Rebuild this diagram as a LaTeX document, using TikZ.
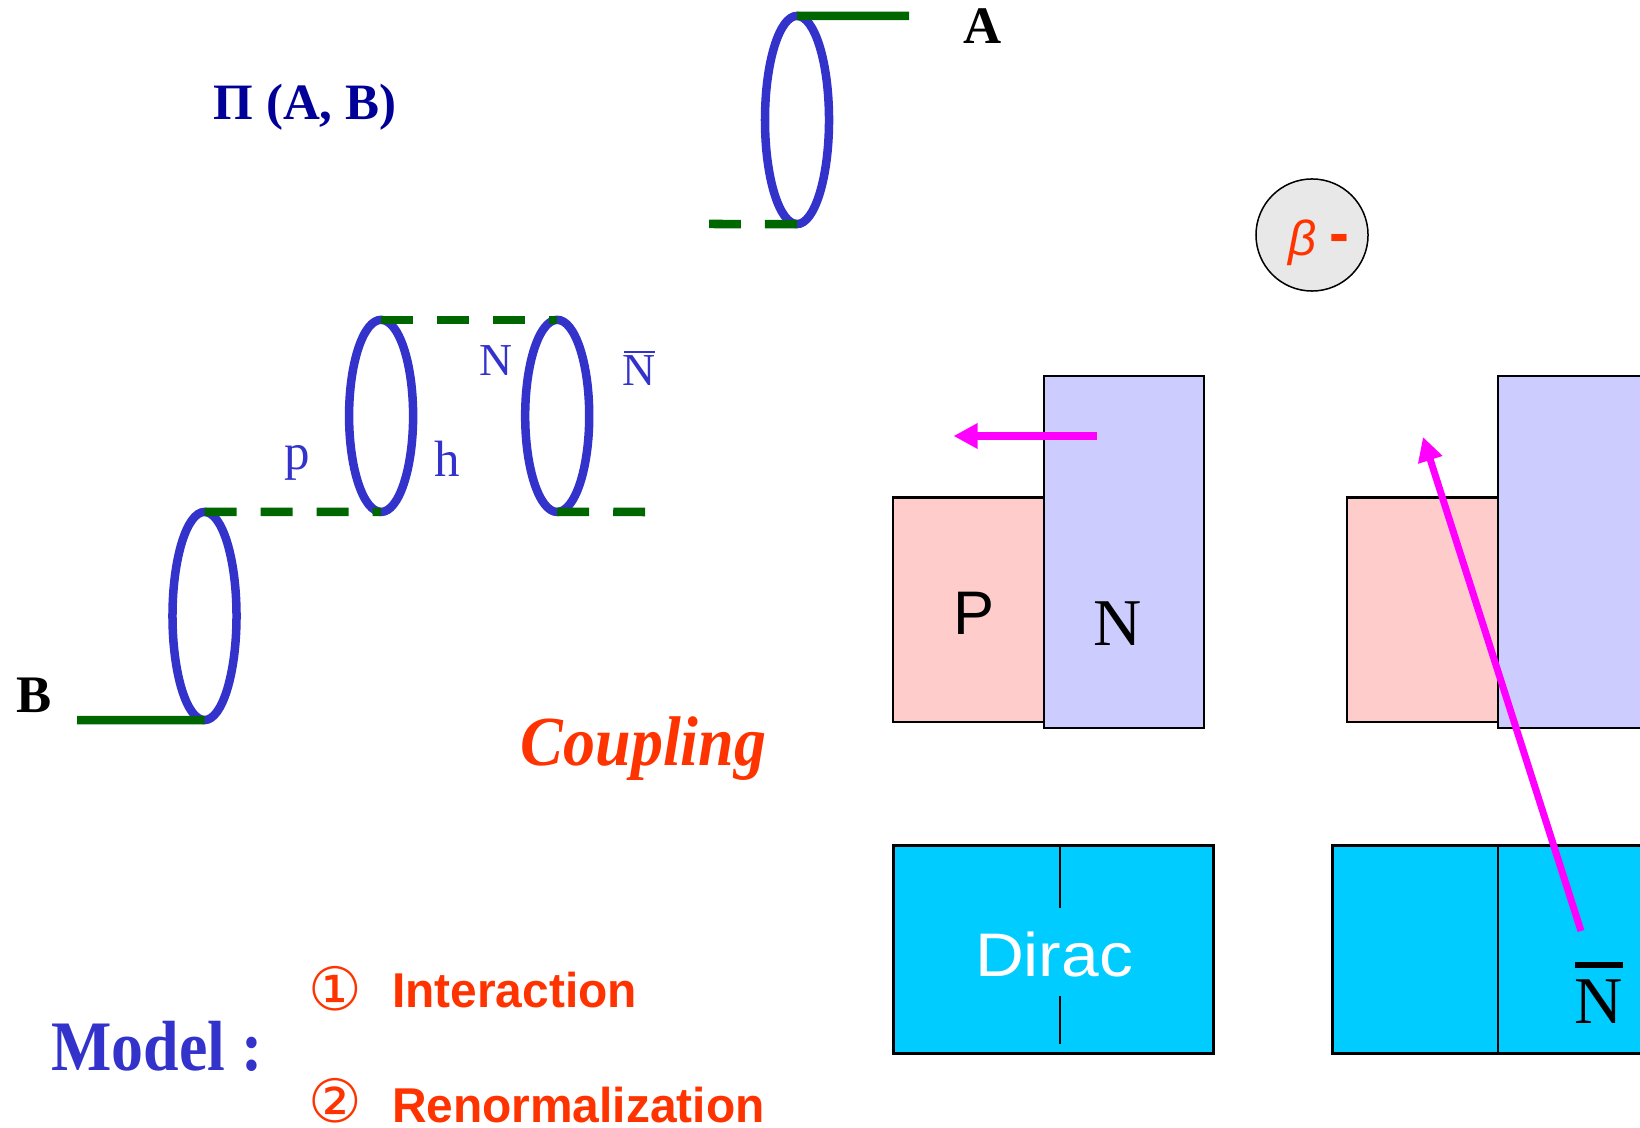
\documentclass[tikz,border=0pt]{standalone}
\usepackage{fontspec}
\setmainfont{Liberation Serif}
\setsansfont{Liberation Sans}
\newfontfamily\symfont{DejaVu Sans}
\usetikzlibrary{shapes.geometric,arrows.meta}

\definecolor{loopblue}{HTML}{3333CC}
\definecolor{navyblue}{HTML}{000099}
\definecolor{linegreen}{HTML}{006600}
\definecolor{hotred}{HTML}{FF3300}
\definecolor{diracblue}{HTML}{00CCFF}
\definecolor{arrowpink}{HTML}{FF00FF}

\newcommand{\fsz}[1]{\fontsize{#1}{#1}\selectfont}

\tikzstyle{loopring} = [ellipse, draw=loopblue, line width=.085cm, inner sep=0, outer sep=0, minimum width=.64cm, minimum height=2.08cm]
\tikzstyle{solidline} = [draw=linegreen, line width=.085cm]
\tikzstyle{dashline} = [solidline, dash pattern=on .32cm off .24cm]
\tikzstyle{pbox} = [rectangle, draw, fill=red!20, line width=.02cm, anchor=north west, minimum width=1.51cm, minimum height=2.24cm, inner sep=0]
\tikzstyle{nbox} = [rectangle, draw, fill=blue!20, line width=.02cm, anchor=north west, minimum height=3.515cm, inner sep=0]
\tikzstyle{diracbox} = [rectangle, draw, fill=diracblue, line width=.025cm, anchor=north west, minimum height=2.08cm, inner sep=0]
\tikzstyle{line} = [draw=arrowpink, -{Triangle[length=.24cm,width=.24cm]}]
\tikzstyle{dirtick} = [draw, line width=.02cm]
\tikzstyle{textlabel} = [inner sep=0, outer sep=0, text=loopblue]
\tikzstyle{narrow} = [xscale=.9, transform shape]
\pgfdeclarelayer{background}
\pgfsetlayers{background,main}

\begin{document}
\begin{tikzpicture}[x=.01cm, y=-.01cm, node distance=2cm]

    \useasboundingbox (0,0) rectangle (1640,1128);
    \clip (0,0) rectangle (1640,1128);

    % loops
    \node [loopring] (loopa) at (797,120) {};
    \node [loopring] (loopb) at (204.5,616) {};
    \node [loopring, right of=loopb, node distance=1.765cm, yshift=2cm,
            minimum height=1.92cm] (loopp) {};
    \node [loopring, right of=loopp, node distance=1.76cm,
            minimum height=1.92cm] (loopn) {};

    % free ends
    \coordinate (aend) at (909,16);
    \coordinate (adash) at (709,224);
    \coordinate (bend) at (77,720);
    \coordinate (nend) at (645,512);

    % green lines
    \path[solidline] (loopa.north) -- (aend);
    \path[dashline] (loopa.south) -- (adash);
    \path[solidline] (loopb.south) -- (bend);
    \path[dashline] (loopb.north) -- (loopp.south);
    \path[dashline] (loopp.north) -- (loopn.north);
    \path[dashline] (loopn.south) -- (nend);

    % loop labels
    \node [textlabel, text=black, font=\bfseries\fsz{15}] (labela) at (983,26) {A};
    \node [textlabel, text=black, font=\bfseries\fsz{15}] (labelb) at (34,695) {B};
    \node [textlabel, text=navyblue, font=\bfseries\fsz{14.5}] (pitext) at (305,107) {Π (A, B)};
    \node [textlabel, font=\fsz{13}] (labeln) at (496,361) {N};
    \node [textlabel, font=\fsz{13}] (labelnbar) at (639,371) {N};
    \node [textlabel, fill=loopblue, minimum width=.31cm, minimum height=.025cm, above of=labelnbar, node distance=.19cm] (barn) {};
    \node [textlabel, font=\fsz{14.5}] (labelp) at (297,463) {p};
    \node [textlabel, font=\fsz{14.5}] (labelh) at (447,459) {h};

    % beta
    \node [circle, draw, fill=black!9, line width=.015cm, minimum size=1.12cm, inner sep=0] (beta) at (1312,235) {};
    \node [textlabel, text=hotred, font=\sffamily\itshape\fsz{14}] (betatext) at (1303,243) {β};
    \node [textlabel, text=hotred, font=\sffamily\bfseries\fsz{17}] (betaminus) at (1339,244) {-};

    % rectangles
    \begin{pgfonlayer}{background}
        \node [pbox] (pone) at (892,496.5) {};
        \node [nbox, minimum width=1.6cm] (none) at (1043,375) {};
        \node [pbox] (ptwo) at (1346,496.5) {};
        \node [nbox, minimum width=1.6cm] (ntwo) at (1497,375) {};
        \node [diracbox, minimum width=3.2cm] (dirone) at (892,844) {};
        \node [diracbox, minimum width=3.3cm] (dirtwo) at (1331,844) {};
    \end{pgfonlayer}

    % dirac dividers
    \coordinate (ticksix) at (1059.5,844);
    \coordinate (tickone) at (1059.5,908);
    \coordinate (ticktwo) at (1059.5,996);
    \coordinate (tickthree) at (1059.5,1044);
    \coordinate (tickfour) at (1498,844);
    \coordinate (tickfive) at (1498,1052);
    \path[dirtick] (ticksix) -- (tickone);
    \path[dirtick] (ticktwo) -- (tickthree);
    \path[dirtick] (tickfour) -- (tickfive);

    % box labels
    \node [textlabel, text=black, font=\sffamily\fsz{17.5}] (ptext) at (974,613) {P};
    \node [textlabel, text=black, font=\fsz{19}] (ntext) at (1117.5,624) {N};
    \node [textlabel, text=white, font=\sffamily\fsz{17.5}, xscale=1.1, transform shape] (dirtext) at (1054,954) {Dirac};
    \node [textlabel, text=black, font=\fsz{19}] (nbartext) at (1599,1002) {N};
    \node [textlabel, fill=black, minimum width=.48cm, minimum height=.055cm, above of=nbartext, node distance=.37cm] (nbar) {};

    % arrows
    \coordinate (tailone) at (1097,436);
    \coordinate (tipone) at (953.5,436);
    \coordinate (tailtwo) at (1581,931);
    \coordinate (tiptwo) at (1423,437);
    \path[line, line width=.08cm] (tailone) -- (tipone);
    \path[line, line width=.07cm] (tailtwo) -- (tiptwo);

    % text
    \node [textlabel, text=hotred, font=\bfseries\itshape\fsz{20}, xscale=.91, transform shape] (coupling) at (643.5,749) {Coupling};
    \node [textlabel, font=\bfseries\fsz{20.2}, narrow] (model) at (157,1046) {Model :};
    \node [textlabel, text=hotred, font=\symfont\fsz{17}] (numone) at (335,989) {①};
    \node [textlabel, text=hotred, font=\symfont\fsz{17}, below of=numone, node distance=1.12cm] (numtwo) {②};
    \node [textlabel, text=hotred, font=\sffamily\bfseries\fsz{13.9}, anchor=base west, xscale=.98, transform shape] (interaction) at (392,1007) {Interaction};
    \node [textlabel, text=hotred, font=\sffamily\bfseries\fsz{13.9}, anchor=base west, xscale=.98, transform shape] (renorm) at (392,1122) {Renormalization};

\end{tikzpicture}
\end{document}
